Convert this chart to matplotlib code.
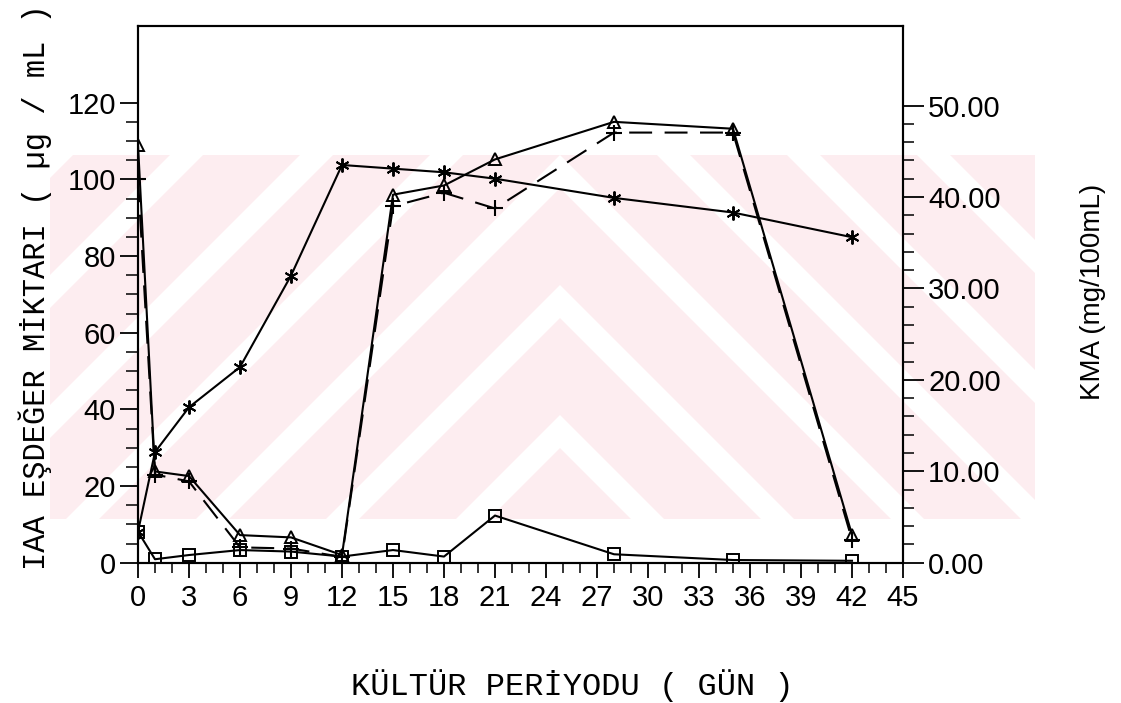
import matplotlib
matplotlib.use("Agg")
import matplotlib.pyplot as plt
from matplotlib.patches import Polygon, Rectangle
from matplotlib.ticker import MultipleLocator, FixedLocator, FormatStrFormatter
from matplotlib.transforms import Affine2D

# Kültür süresi (gün)
days = [0, 1, 3, 6, 9, 12, 15, 18, 21, 28, 35, 42]

# IAA eşdeğeri (µg/mL) - üçgen, artı ve kare serileri
iaa_tri = [109.0, 23.8, 22.6, 7.2, 6.6, 2.0, 96.0, 98.4, 105.2, 115.0, 113.2, 7.3]
iaa_plus = [100.0, 23.0, 21.2, 4.0, 3.7, 1.5, 93.0, 96.5, 92.4, 112.2, 112.2, 6.0]
iaa_sq = [8.1, 0.9, 2.0, 3.3, 2.9, 1.6, 3.3, 1.6, 12.3, 2.2, 0.7, 0.5]

# KMA (mg/100mL) - sağ eksen
kma = [3.4, 12.1, 17.0, 21.4, 31.4, 43.5, 43.1, 42.7, 42.0, 39.9, 38.3, 35.6]

W, H = 1121, 703
fig = plt.figure(figsize=(W / 100, H / 100), dpi=100)
fig.patch.set_facecolor("white")

# piksel koordinatlarindan sekil koordinatlarina
px = Affine2D().scale(1 / W, -1 / H).translate(0, 1) + fig.transFigure

# arka plandaki soluk pembe filigran
pink = "#fdedf0"
top_y, bot_y = 155, 519
left_half = Rectangle((50, top_y), 510, bot_y - top_y, transform=px,
                      facecolor=pink, edgecolor="none", zorder=-3)
right_half = Rectangle((560, top_y), 475, bot_y - top_y, transform=px,
                       facecolor=pink, edgecolor="none", zorder=-3)
fig.patches.extend([left_half, right_half])
for k in range(-4, 6):
    c = 715 + 130 * k
    s = Polygon([(c - bot_y, bot_y), (c - bot_y + 33, bot_y),
                 (c - top_y + 33, top_y), (c - top_y, top_y)],
                transform=px, facecolor="white", edgecolor="none", zorder=-2)
    s.set_clip_path(left_half)
    fig.patches.append(s)
    d = 405 - 130 * k
    s = Polygon([(d + top_y - 33, top_y), (d + top_y, top_y),
                 (d + bot_y, bot_y), (d + bot_y - 33, bot_y)],
                transform=px, facecolor="white", edgecolor="none", zorder=-2)
    s.set_clip_path(right_half)
    fig.patches.append(s)

ax = fig.add_axes([138 / W, 140.3 / H, 765 / W, 536.7 / H])
ax.patch.set_facecolor("none")
ax.set_xlim(0, 45)
ax.set_ylim(0, 140)
ax2 = ax.twinx()
ax2.set_ylim(0, 58.7)

ax.xaxis.set_major_locator(MultipleLocator(3))
ax.xaxis.set_minor_locator(FixedLocator(range(0, 45)))
ax.yaxis.set_major_locator(FixedLocator(range(0, 121, 20)))
ax.yaxis.set_minor_locator(FixedLocator(range(0, 121, 5)))
ax2.yaxis.set_major_locator(FixedLocator(range(0, 51, 10)))
ax2.yaxis.set_minor_locator(FixedLocator(range(0, 51, 2)))
ax2.yaxis.set_major_formatter(FormatStrFormatter("%.2f"))

ax.tick_params(axis="x", which="major", direction="out", length=11, width=1.3, pad=4)
ax.tick_params(axis="x", which="minor", direction="out", length=7, width=1.1)
ax.tick_params(axis="y", which="major", direction="out", length=13, width=1.3, pad=3)
ax.tick_params(axis="y", which="minor", direction="out", length=9, width=1.1)
ax2.tick_params(axis="y", which="major", direction="out", length=15, width=1.3, pad=3)
ax2.tick_params(axis="y", which="minor", direction="out", length=8, width=1.1)
for lab in ax.get_xticklabels() + ax.get_yticklabels() + ax2.get_yticklabels():
    lab.set_fontfamily("Liberation Sans")
    lab.set_fontsize(21)

for a in (ax, ax2):
    for sp in a.spines.values():
        sp.set_linewidth(1.5)

ax.plot(days, iaa_tri, color="k", lw=1.5, marker="^", ms=9,
        mfc="none", mec="k", mew=1.4, zorder=3)
ax.plot(days, iaa_plus, color="k", lw=1.5, ls=(0, (11, 6)), marker="+",
        ms=12, mew=1.5, zorder=3)
ax.plot(days, iaa_sq, color="k", lw=1.5, marker="s", ms=8,
        mfc="none", mec="k", mew=1.4, zorder=3)
ax2.plot(days, kma, color="k", lw=1.5, marker=(6, 2, 0), ms=10, mew=1.4)

fig.text(35 / W, 1 - 287 / H, "IAA EŞDEĞER MİKTARI ( µg / mL )", rotation=90,
         ha="center", va="center", family="Liberation Mono", size=22)
fig.text(572 / W, 1 - 686 / H, "KÜLTÜR PERİYODU ( GÜN )",
         ha="center", va="center", family="Liberation Mono", size=23)
fig.text(1093 / W, 1 - 292 / H, "KMA (mg/100mL)", rotation=90,
         ha="center", va="center", family="Liberation Sans", size=20)

fig.savefig("out.png", dpi=100)
